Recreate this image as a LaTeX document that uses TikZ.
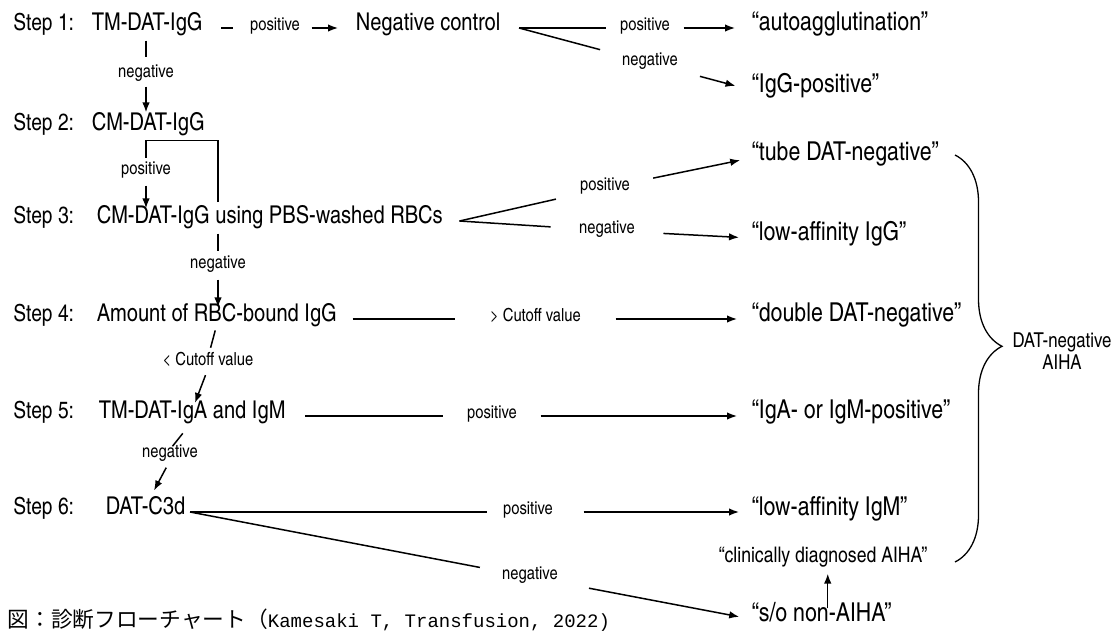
\documentclass[tikz,border=0pt]{standalone}
\usepackage{fontspec}
\setmainfont{texgyreheroscn-regular.otf}
\newfontfamily\jpfont{Noto Sans CJK JP}
\newfontfamily\capfont{Liberation Mono}
\usepackage{tikz}
\usetikzlibrary{arrows.meta, positioning, calc, decorations.pathreplacing}

\begin{document}
\begin{tikzpicture}[x=1pt, y=-1pt, line width=1.5pt,
  steplbl/.style={anchor=west, inner sep=0pt, text height=0.75em, text depth=0.22em, font=\fontsize{23.5}{26}\selectfont},
  testbox/.style={anchor=west, inner sep=0pt, text height=0.75em, text depth=0.22em, font=\fontsize{24.5}{27}\selectfont},
  outcome/.style={anchor=west, inner sep=0pt, text height=0.75em, text depth=0.22em, font=\fontsize{26}{29}\selectfont},
  cond/.style={inner sep=0pt, text height=0.75em, text depth=0.22em, font=\fontsize{18}{20}\selectfont},
  arr/.style={-{Latex[length=10pt, width=7.5pt]}}]
  \useasboundingbox (0,0) rectangle (1115,634);

  \node[steplbl] (st1) at (12.5,28) {Step 1:};
  \node[steplbl] (st2) at (12.5,128) {Step 2:};
  \node[steplbl] (st3) at (12.5,221) {Step 3:};
  \node[steplbl] (st4) at (12.5,319) {Step 4:};
  \node[steplbl] (st5) at (12.5,416) {Step 5:};
  \node[steplbl] (st6) at (12.5,512) {Step 6:};

  \node[testbox] (tmigg) at (91,28) {TM-DAT-IgG};
  \node[testbox] (negctl) at (355,28) {Negative control};
  \node[testbox] (cmigg) at (91,128) {CM-DAT-IgG};
  \node[testbox] (cmpbs) at (96,221) {CM-DAT-IgG using PBS-washed RBCs};
  \node[testbox] (amount) at (96,319) {Amount of RBC-bound IgG};
  \node[testbox] (tmiga) at (98,416) {TM-DAT-IgA and IgM};
  \node[testbox] (c3d) at (105,512) {DAT-C3d};

  \node[outcome] (autoag) at (751,28) {“autoagglutination”};
  \node[outcome] (iggpos) at (751,90) {“IgG-positive”};
  \node[outcome] (tubeneg) at (751,158) {“tube DAT-negative”};
  \node[outcome] (lowigg) at (751,238) {“low-affinity IgG”};
  \node[outcome] (dblneg) at (751,319) {“double DAT-negative”};
  \node[outcome] (igapos) at (751,416) {“IgA- or IgM-positive”};
  \node[outcome] (lowigm) at (751,513) {“low-affinity IgM”};
  \node[outcome, font=\fontsize{21.5}{24}\selectfont] (clinaiha) at (718,560) {“clinically diagnosed AIHA”};
  \node[outcome] (nonaiha) at (751,619) {“s/o non-AIHA”};
  \node[align=center, inner sep=0pt, font=\fontsize{20.5}{22}\selectfont] (datneg) at (1062,351) {DAT-negative\\AIHA};

  \node[cond] (pos1) at (275,28) {positive};
  \node[cond] (neg1) at (146,75) {negative};
  \node[cond] (pos2) at (645,28) {positive};
  \node[cond] (neg2) at (650,63) {negative};
  \node[cond] (pos3) at (146,172) {positive};
  \node[cond] (pos4) at (605,188) {positive};
  \node[cond] (neg4) at (607,230.5) {negative};
  \node[cond] (neg3) at (218,266) {negative};
  \node[cond] (cutgt) at (535.5,319) {> Cutoff value};
  \node[cond] (cutlt) at (208,363) {< Cutoff value};
  \node[cond] (pos5) at (492,416) {positive};
  \node[cond] (neg5) at (170,455) {negative};
  \node[cond] (pos6) at (528,512) {positive};
  \node[cond] (neg6) at (530,577) {negative};

  \draw[shorten <=18pt, shorten >=16pt] (tmigg.east) -- (pos1.west);
  \draw[arr, shorten <=11pt, shorten >=17pt] (pos1.east) -- (negctl.west);
  \coordinate (ncfork) at ([xshift=18pt]negctl.east);
  \draw[shorten >=13pt] (ncfork) -- (pos2.west);
  \draw[arr, shorten <=13pt, shorten >=16pt] (pos2.east) -- (autoag.west);
  \draw[shorten >=30pt] (ncfork) -- (neg2);
  \draw[arr, shorten <=30pt, shorten >=16pt] (neg2) -- (iggpos.west);

  \draw[shorten <=7pt, shorten >=12pt] (tmigg.south -| neg1) -- (neg1.north);
  \draw[arr, shorten <=6pt, shorten >=10pt] (neg1.south) -- (neg1.south |- cmigg.north);

  \coordinate (brkl) at ([yshift=-7pt]cmigg.south -| pos3);
  \coordinate (brkr) at (218,202);
  \draw[shorten >=8pt] (brkr) |- (brkl) -- (pos3.north);
  \draw[arr, shorten <=8pt, shorten >=7pt] (pos3.south) -- (pos3.south |- cmpbs.north);

  \coordinate (pbsfork) at ([xshift=16pt]cmpbs.east);
  \draw[shorten >=25pt] (pbsfork) -- (pos4);
  \draw[arr, shorten <=23pt, shorten >=11pt] (pos4) -- (tubeneg.west);
  \draw[shorten >=28pt] (pbsfork) -- (neg4);
  \draw[arr, shorten <=28pt, shorten >=12pt] (neg4) -- (lowigg.west);

  \draw[shorten <=7pt, shorten >=9pt] (cmpbs.south -| neg3) -- (neg3.north);
  \draw[arr, shorten <=8pt, shorten >=6pt] (neg3.south) -- (neg3.south |- amount.north);

  \draw[shorten <=15pt, shorten >=34pt] (amount.east) -- (cutgt.west);
  \draw[arr, shorten <=34pt, shorten >=14pt] (cutgt.east) -- (dblneg.west);
  \draw[shorten <=6pt, shorten >=10pt] (amount.south) -- (cutlt.north);
  \draw[arr, shorten <=7pt, shorten >=8pt] (cutlt.south) -- (tmiga.north);

  \draw[shorten <=19pt, shorten >=23pt] (tmiga.east) -- (pos5.west);
  \draw[arr, shorten <=23pt, shorten >=14pt] (pos5.east) -- (igapos.west);
  \draw[shorten <=15pt, shorten >=4pt] (tmiga.south) -- (neg5.north);
  \draw[arr, shorten <=8pt, shorten >=18pt] (neg5.south) -- (c3d.north);

  \coordinate (c3fork) at ([xshift=4pt]c3d.east);
  \draw[shorten >=15pt] (c3fork) -- (pos6.west);
  \draw[arr, shorten <=30pt, shorten >=12pt] (pos6.east) -- (pos6.east -| lowigm.west);
  \draw[shorten >=22pt] (c3fork) -- (neg6);
  \draw[arr, shorten <=31pt, shorten >=12pt] (neg6) -- (nonaiha.west);

  \draw[arr, shorten <=5pt, shorten >=8pt] ([xshift=6pt]nonaiha.north) -- ([xshift=6pt]nonaiha.north |- clinaiha.south);

  \coordinate (brtop) at (955,155);
  \coordinate (brbot) at (955,562);
  \draw[line width=1.3pt, decorate, decoration={brace, amplitude=47pt, aspect=0.47}] (brtop) -- (brbot);

  \node[anchor=west, inner sep=0pt] (caption) at (7,620) {\jpfont\fontsize{21.7}{24}\selectfont 図：診断フローチャート（{\capfont\fontsize{19}{24}\selectfont Kamesaki T, Transfusion, 2022)}};
\end{tikzpicture}
\end{document}
